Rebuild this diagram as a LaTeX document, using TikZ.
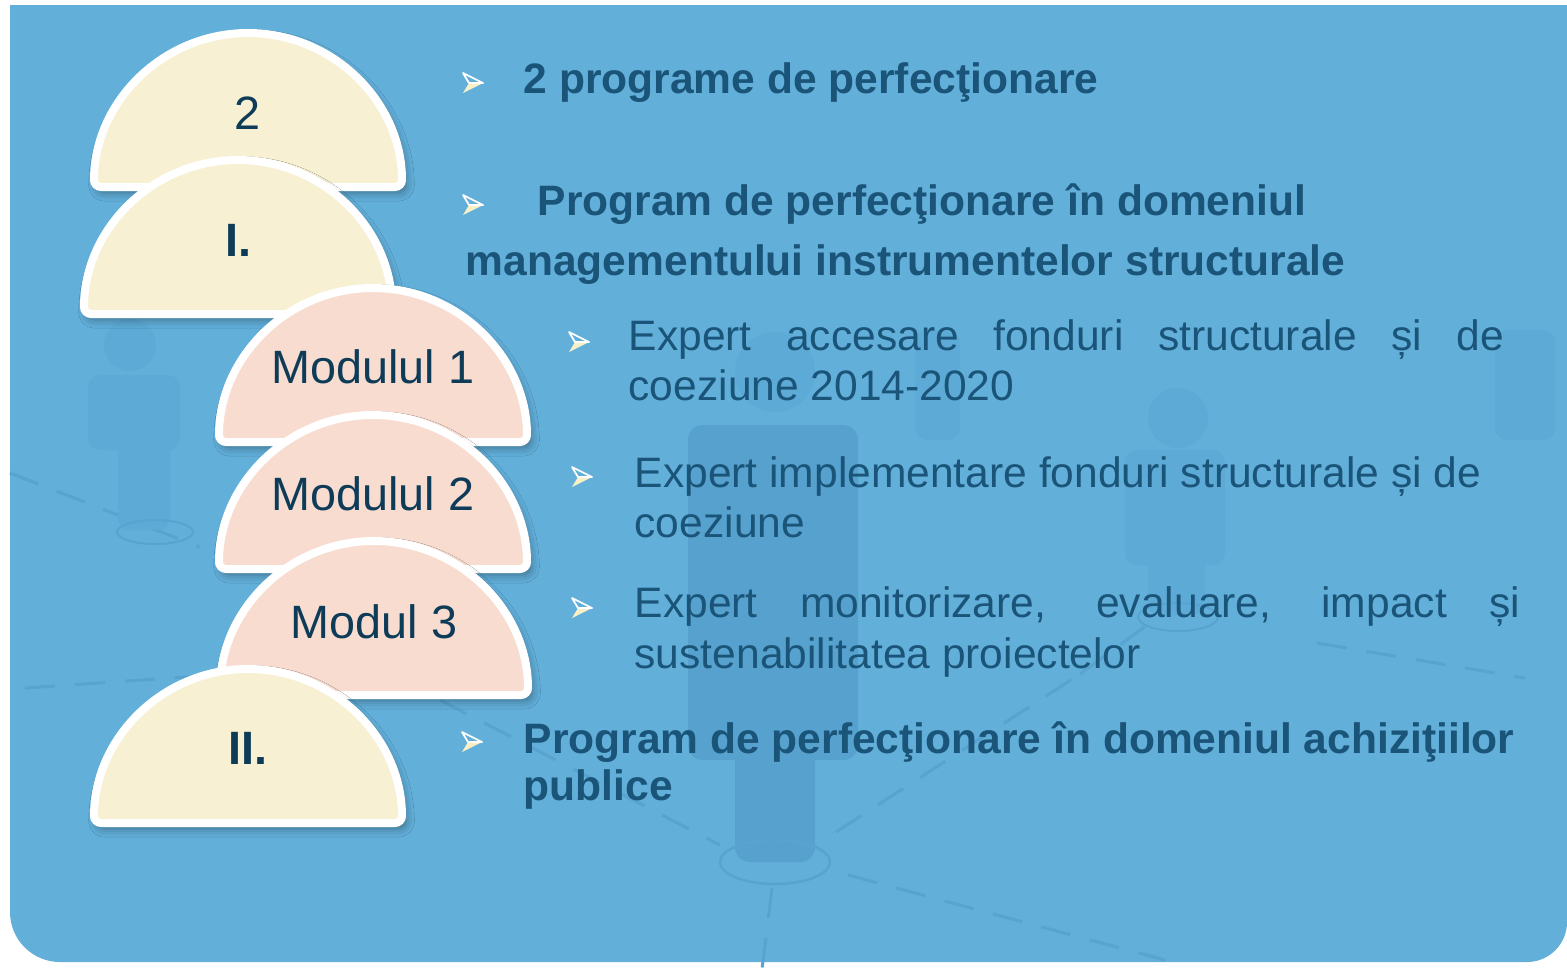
\documentclass[tikz,border=0pt]{standalone}
\usepackage{fontspec}
\setmainfont{Liberation Sans}
\usetikzlibrary{shadows.blur}

\definecolor{panelblue}{RGB}{98,175,218}
\definecolor{domecream}{RGB}{247,240,211}
\definecolor{domepink}{RGB}{247,220,207}
\definecolor{labelnavy}{RGB}{14,60,88}
\definecolor{textnavy}{RGB}{26,84,120}
\definecolor{bulletcream}{RGB}{250,240,200}
\definecolor{ghostblue}{RGB}{86,161,206}
\definecolor{ghostfaint}{RGB}{93,170,214}
\definecolor{netblue}{RGB}{88,163,208}

\tikzset{arrowbullet/.pic={
  \fill[bulletcream] (10,0) -- (-4,0) -- (-10,10) -- cycle;
  \draw[white, line width=0.5pt, line join=round] (10,0) -- (-10,-10) -- (-4,0) -- cycle;
}}

\begin{document}
\begin{tikzpicture}[x=0.01cm,y=-0.01cm,
    dome/.style={draw=white, line width=0.08cm, rounded corners=2pt,
      blur shadow={shadow xshift=1pt, shadow yshift=-1.5pt, shadow blur radius=2.5pt, shadow opacity=40}},
    domelabel/.style={text=labelnavy, font=\fontsize{13.3}{15}\selectfont, inner sep=0},
    heading/.style={anchor=base west, inner sep=0, text=textnavy, font=\fontsize{12.1}{14}\selectfont\bfseries},
    item/.style={anchor=base west, inner sep=0, text=textnavy, font=\fontsize{12.1}{14}\selectfont},
    netline/.style={draw=netblue, line width=0.03cm, dash pattern=on 0.3cm off 0.2cm},
    ghost/.style={fill=ghostblue, rounded corners=0.15cm},
    ghostlight/.style={fill=ghostfaint, rounded corners=0.12cm}]
  \useasboundingbox (0,0) rectangle (1567,969);

  % panel
  \fill[panelblue] (10,5) -- (1567,5) -- (1567,922) arc[start angle=0, end angle=90, radius=40]
    -- (60,962) arc[start angle=90, end angle=180, radius=50] -- cycle;

  % background network
  \draw[netline] (10,473) -- (200,547);
  \draw[netline] (25,688) -- (230,674);
  \draw[netline] (440,700) -- (720,845);
  \draw[netline] (836,832) -- (1080,674);
  \draw[netline] (848,875) -- (1165,960);
  \draw[netline] (772,888) -- (762,969);
  \draw[netline] (1317,643) -- (1525,678);
  \draw[netline] (1080,674) -- (1165,612);

  \fill[ghostlight] (130,345) circle (26);
  \fill[ghostlight] (88,375) rectangle (180,450);
  \fill[ghostlight] (118,440) rectangle (170,530);
  \draw[netblue, line width=0.02cm] (155,532) ellipse [x radius=38, y radius=12];

  \fill[ghostlight] (1178,418) circle (30);
  \fill[ghostlight] (1125,450) rectangle (1225,565);
  \fill[ghostlight] (1148,540) rectangle (1205,615);
  \draw[netblue, line width=0.02cm] (1178,617) ellipse [x radius=40, y radius=14];

  \fill[ghostlight] (1495,330) rectangle (1555,440);
  \fill[ghostlight] (915,330) rectangle (960,440);

  \fill[ghostlight] (775,372) circle (40);
  \fill[ghost] (688,425) rectangle (858,760);
  \fill[ghost] (735,700) rectangle (815,862);
  \draw[netblue, line width=0.025cm] (775,862) ellipse [x radius=55, y radius=22];

  % domes
  \foreach \cx/\by/\col/\nm/\lbl/\ly in {
      248/187/domecream/dtwo/{2}/113,
      238/314/domecream/dI/{\textbf{I.}}/240,
      373/442/domepink/dmone/{Modulul 1}/367,
      373/569/domepink/dmtwo/{Modulul 2}/494,
      374/695/domepink/dmthree/{Modul 3}/622,
      248/823/domecream/dII/{\textbf{II.}}/748}{
    \fill[dome, fill=\col] (\cx-154,\by) arc[start angle=180, end angle=360, radius=154] -- cycle;
    \node[domelabel] (\nm) at (\cx,\ly) {\lbl};
  }

  % bullets
  \foreach \bx/\by in {473/83, 473/205, 579/342, 582/477, 582/608, 472/742}
    \pic at (\bx,\by) {arrowbullet};

  % text
  \node[heading] (tone) at (523,93) {2 programe de perfecţionare};
  \node[heading] (ttwoa) at (537,215) {Program de perfecţionare în domeniul};
  \node[heading] (ttwob) at (465,275) {managementului instrumentelor structurale};

  \node[item] (sonea) at (628,350) {\makebox[8.75cm][s]{Expert accesare fonduri structurale și de}};
  \node[item] (soneb) at (628,400) {coeziune 2014-2020};
  \node[item] (stwoa) at (634,487) {Expert implementare fonduri structurale și de};
  \node[item] (stwob) at (634,537) {coeziune};
  \node[item] (sthreea) at (634,617) {\makebox[8.85cm][s]{Expert monitorizare, evaluare, impact și}};
  \node[item] (sthreeb) at (634,668) {sustenabilitatea proiectelor};

  \node[heading] (tthreea) at (523,753) {Program de perfecţionare în domeniul achiziţiilor};
  \node[heading] (tthreeb) at (523,800) {publice};
\end{tikzpicture}
\end{document}
